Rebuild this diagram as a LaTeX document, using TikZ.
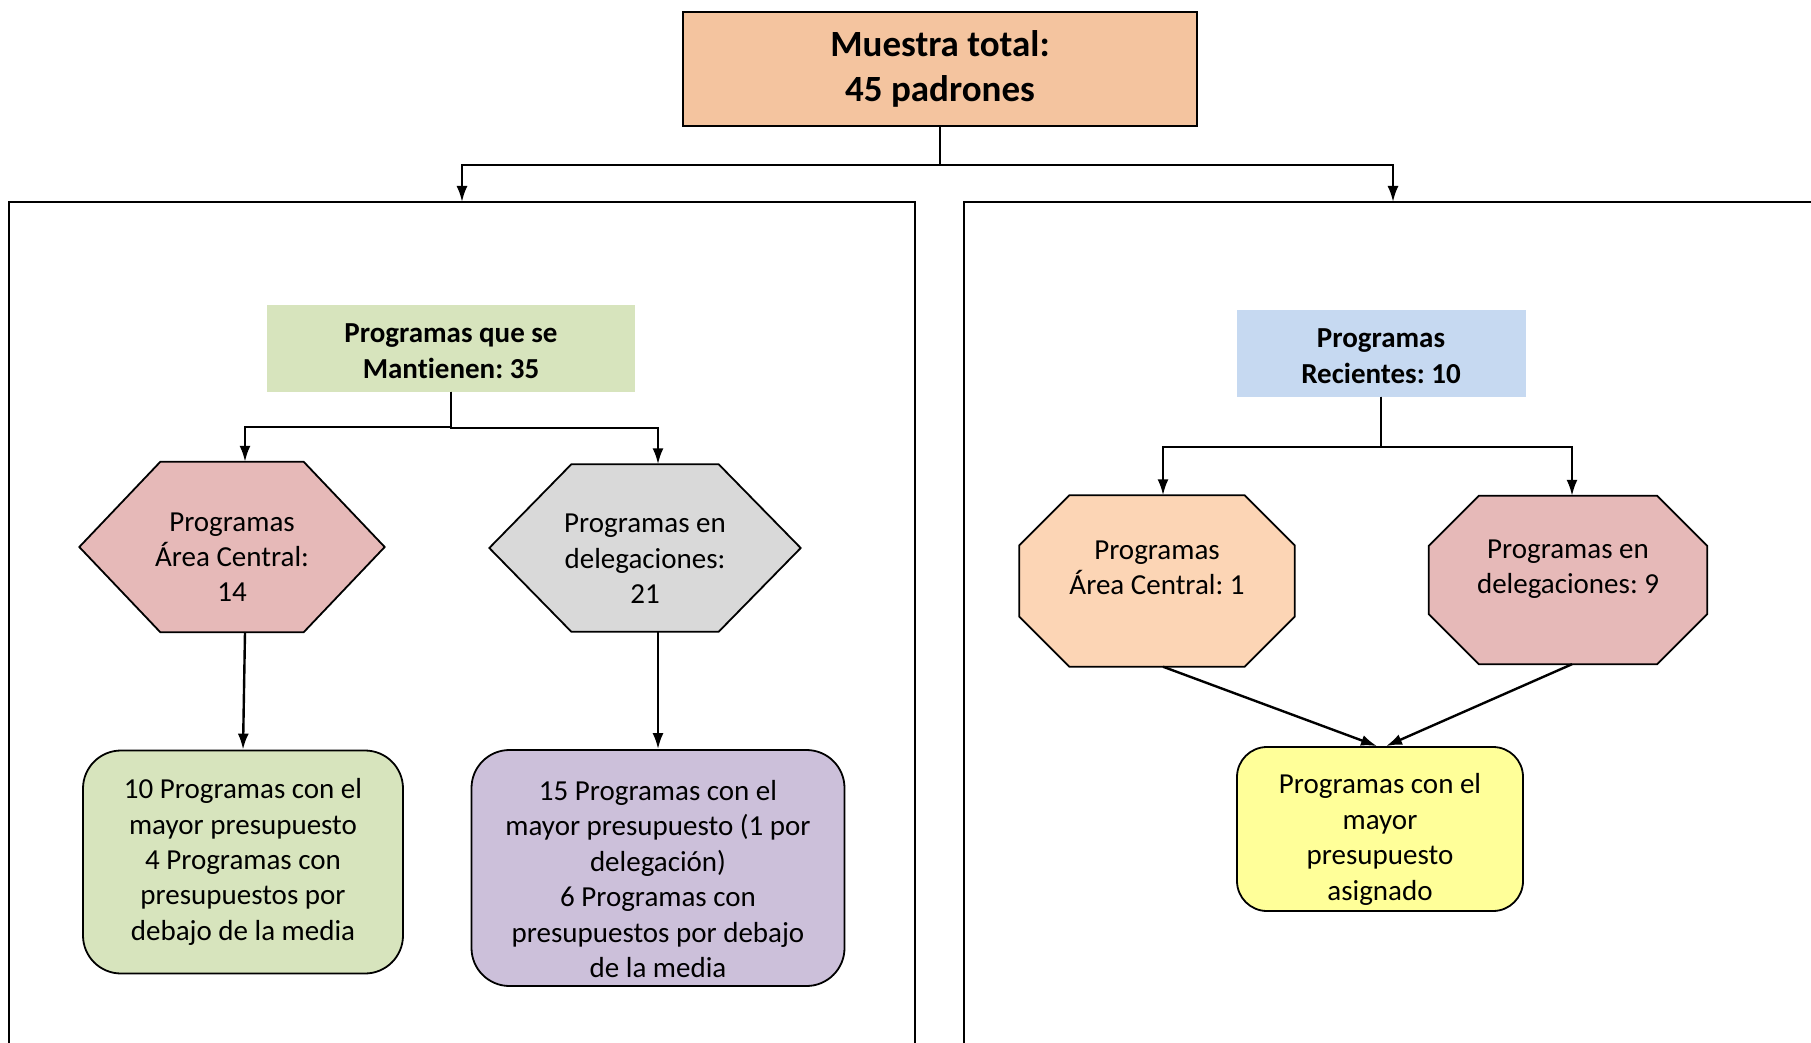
\documentclass[tikz,border=0pt]{standalone}
\usepackage{fontspec}
\setmainfont{Carlito}[Ligatures=NoCommon]
\usepackage{tikz}
\usetikzlibrary{arrows.meta}
\usetikzlibrary{backgrounds}
\usetikzlibrary{calc}
\definecolor{peach}{HTML}{F4C49F}
\definecolor{olive}{HTML}{D7E4BD}
\definecolor{sky}{HTML}{C6D9F1}
\definecolor{rose}{HTML}{E6B9B8}
\definecolor{silver}{HTML}{D9D9D9}
\definecolor{lilac}{HTML}{CCC0DA}
\definecolor{apricot}{HTML}{FCD5B5}
\definecolor{lemon}{HTML}{FFFF99}
\frenchspacing

\begin{document}
\begin{tikzpicture}[x=1pt, y=-1pt,
    txt/.style={align=center, inner sep=0pt, font=\fontsize{29}{35.4}\selectfont},
    head/.style={txt, font=\fontsize{29}{35.4}\selectfont\bfseries},
    soft/.style={txt, draw, line width=1.8pt, rounded corners=38pt},
    link/.style={line width=2.4pt, -{Latex[length=16pt,width=11pt]}},
    edge/.style={line width=1.8pt},
    frame/.style={line width=1.5pt}]
  \useasboundingbox (0,0) rectangle (1811,1043);

  \draw[frame] (9,1050) -- (9,202) -- (915,202) -- (915,1050);
  \draw[frame] (964,1050) -- (964,202) -- (1820,202);
  \coordinate (keepin) at (462,202);
  \coordinate (newin) at (1393,202);

  \node[draw, fill=peach, line width=1.8pt, minimum width=514pt, minimum height=114pt,
    align=center, font=\fontsize{37}{45}\selectfont\bfseries] (total) at (940,69) {Muestra total:\\45 padrones};
  \draw[link] (total.south) -- ++(0,38) -| (keepin);
  \draw[link] (total.south) -- ++(0,38) -| (newin);

  % programas que se mantienen
  \node[head, fill=olive, minimum width=368pt, minimum height=87pt] (keep) at (451,348) {\rule{0pt}{25pt}Programas que se\\Mantienen: 35};
  \node[txt, minimum width=305pt, minimum height=170pt] (hexA) at (232,547) {\rule{0pt}{39pt}Programas\\Área Central:\\14};
  \node[txt, minimum width=311pt, minimum height=167pt] (hexB) at (645,548) {\rule{0pt}{40pt}Programas en\\delegaciones:\\21};
  \node[soft, fill=olive, minimum width=320pt, minimum height=223pt] (lowA) at (243,862) {10 Programas con el\\mayor presupuesto\\4 Programas con\\presupuestos por\\debajo de la media};
  \node[soft, fill=lilac, minimum width=373pt, minimum height=236pt] (lowB) at (658,868) {\rule{0pt}{42pt}15 Programas con el\\mayor presupuesto (1 por\\delegación)\\6 Programas con\\presupuestos por debajo\\de la media};

  \draw[link] (keep.south) -- ++(0,35) -| ($(hexA.north)+(13,0)$);
  \draw[link] (keep.south) -- ++(0,36) -| ($(hexB.north)+(13,0)$);
  \draw[link] ($(hexA.south)+(13,0)$) -- (lowA.north);
  \draw[link] ($(hexB.south)+(13,0)$) -- (lowB.north);

  % programas recientes
  \node[head, fill=sky, minimum width=289pt, minimum height=87pt] (recent) at (1381,353) {\rule{0pt}{25pt}Programas\\Recientes: 10};
  \node[txt, minimum width=275pt, minimum height=171pt] (octA) at (1157,581) {\rule{0pt}{27pt}Programas\\Área Central: 1\\\mbox{}};
  \node[txt, minimum width=278pt, minimum height=168pt] (octB) at (1568,580) {\rule{0pt}{27pt}Programas en\\delegaciones: 9\\\mbox{}};
  \node[soft, fill=lemon, rounded corners=30pt, minimum width=286pt, minimum height=164pt] (top) at (1380,829) {\rule{0pt}{41pt}Programas con el\\mayor\\presupuesto\\asignado};

  \draw[link] (recent.south) -- ++(0,50) -| ($(octA.north)+(6,0)$);
  \draw[link] (recent.south) -- ++(0,50) -| ($(octB.north)+(4,0)$);
  \draw[link] ($(octA.south)+(6,0)$) -- ($(top.north)+(-3,0)$);
  \draw[link] ($(octB.south)+(4,0)$) -- ($(top.north)+(6,0)$);

  \begin{scope}[on background layer]
    \filldraw[edge, fill=rose] (hexA.west) -- ($(hexA.north west)+(81,0)$) -- ($(hexA.north east)+(-81,0)$) -- (hexA.east)
      -- ($(hexA.south east)+(-81,0)$) -- ($(hexA.south west)+(81,0)$) -- cycle;
    \filldraw[edge, fill=silver] (hexB.west) -- ($(hexB.north west)+(82,0)$) -- ($(hexB.north east)+(-82,0)$) -- (hexB.east)
      -- ($(hexB.south east)+(-82,0)$) -- ($(hexB.south west)+(82,0)$) -- cycle;
    \filldraw[edge, fill=apricot] ($(octA.north west)+(50,0)$) -- ($(octA.north east)+(-50,0)$) -- ($(octA.north east)+(0,50)$)
      -- ($(octA.south east)+(0,-50)$) -- ($(octA.south east)+(-50,0)$) -- ($(octA.south west)+(50,0)$)
      -- ($(octA.south west)+(0,-50)$) -- ($(octA.north west)+(0,50)$) -- cycle;
    \filldraw[edge, fill=rose] ($(octB.north west)+(50,0)$) -- ($(octB.north east)+(-50,0)$) -- ($(octB.north east)+(0,50)$)
      -- ($(octB.south east)+(0,-50)$) -- ($(octB.south east)+(-50,0)$) -- ($(octB.south west)+(50,0)$)
      -- ($(octB.south west)+(0,-50)$) -- ($(octB.north west)+(0,50)$) -- cycle;
  \end{scope}
\end{tikzpicture}
\end{document}
